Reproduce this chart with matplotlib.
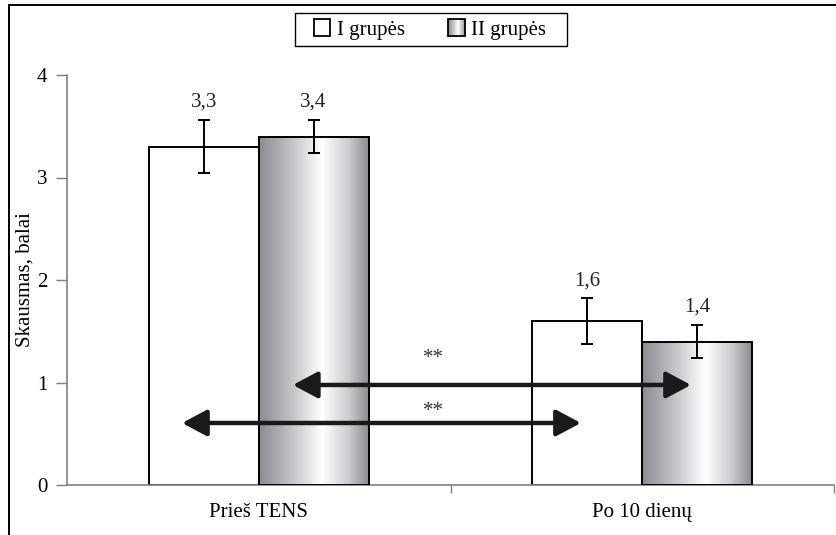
import numpy as np
import matplotlib
matplotlib.use("Agg")
import matplotlib.pyplot as plt
from matplotlib.patches import Rectangle
from matplotlib.colors import LinearSegmentedColormap
from matplotlib.legend_handler import HandlerBase

plt.rcParams['font.family'] = ['Liberation Serif', 'DejaVu Serif']

# ---- data ----
categories = ["Prieš TENS", "Po 10 dienų"]
series_names = ["I grupės", "II grupės"]
group1_values = [3.3, 1.6]
group2_values = [3.4, 1.4]
group1_err = [0.26, 0.22]
group2_err = [0.16, 0.16]
value_labels1 = ["3,3", "1,6"]
value_labels2 = ["3,4", "1,4"]
y_ticks = [0, 1, 2, 3, 4]
ylabel = "Skausmas, balai"
# significance arrows
arrow_starts = [0.089, -0.20]
arrow_ends = [1.127, 0.84]
arrow_levels = [0.976, 0.605]
arrow_labels = ["**", "**"]
label_levels = [1.23, 0.72]

FS = 15
W, H = 836, 535
fig = plt.figure(figsize=(W / 100, H / 100), dpi=100)
ax = fig.add_axes([67 / W, 1 - 485 / H, (834 - 67) / W, 410 / H])

grad_cmap = LinearSegmentedColormap.from_list(
    "bargrad",
    [(0.0, "#8b8c90"), (0.3, "#c4c5c8"), (0.57, "#ffffff"),
     (0.8, "#cdced1"), (1.0, "#88898d")])

x = np.arange(len(categories))
width = 0.287
off = 0.143

b1 = ax.bar(x - off, group1_values, width, color="white", edgecolor="black",
            linewidth=1.4, zorder=2)
b2 = ax.bar(x + off, group2_values, width, color="none", edgecolor="black",
            linewidth=1.4, zorder=3)

grad = np.linspace(0, 1, 256).reshape(1, -1)
for rect in b2:
    x0, y0 = rect.get_x(), rect.get_y()
    w, h = rect.get_width(), rect.get_height()
    im = ax.imshow(grad, cmap=grad_cmap, aspect="auto",
                   extent=[x0, x0 + w, y0, y0 + h], zorder=2.5,
                   interpolation="bilinear")
    clip = Rectangle((x0, y0), w, h, transform=ax.transData)
    im.set_clip_path(clip)

ekw = dict(fmt="none", ecolor="black", elinewidth=1.4, capsize=4, capthick=1.4, zorder=4)
ax.errorbar(x - off, group1_values, yerr=group1_err, **ekw)
ax.errorbar(x + off, group2_values, yerr=group2_err, **ekw)

for xi, v, e, lab in zip(x - off, group1_values, group1_err, value_labels1):
    ax.annotate(lab, (xi, v + e), xytext=(0, 6), textcoords="offset points",
                ha="center", va="bottom", fontsize=FS, color="#222222")
for xi, v, e, lab in zip(x + off, group2_values, group2_err, value_labels2):
    ax.annotate(lab, (xi, v + e), xytext=(0, 6), textcoords="offset points",
                ha="center", va="bottom", fontsize=FS, color="#222222")

for xs, xe, yl, lab, ly in zip(arrow_starts, arrow_ends, arrow_levels, arrow_labels, label_levels):
    ax.annotate("", xy=(xe, yl), xytext=(xs, yl),
                arrowprops=dict(arrowstyle="<|-|>,head_length=0.75,head_width=0.4",
                                lw=3.2, color="#1a1a1a", mutation_scale=20,
                                shrinkA=0, shrinkB=0), zorder=5)
    ax.text(0.455, ly, lab, ha="center", va="center", fontsize=FS, color="#333333", zorder=5)

ax.set_xlim(-0.5, 1.5)
ax.set_ylim(0, 4)
ax.set_yticks(y_ticks)
ax.set_yticklabels([str(t) for t in y_ticks], fontsize=FS)
ax.set_xticks([0.5, 1.5])
ax.set_xticklabels(["", ""])
ax.set_xticks(x, minor=True)
ax.set_xticklabels(categories, minor=True, fontsize=FS)
ax.tick_params(axis="x", which="minor", length=0, pad=13)
ax.tick_params(axis="x", which="major", length=6, width=1, color="#808080", direction="out")
ax.tick_params(axis="y", length=8, width=1, color="#808080", direction="out", pad=6)
for s in ["top", "right"]:
    ax.spines[s].set_visible(False)
for s in ["left", "bottom"]:
    ax.spines[s].set_color("#808080")
    ax.spines[s].set_linewidth(1.2)
ax.set_ylabel(ylabel, fontsize=FS)
ax.yaxis.set_label_coords((35 - 67) / 767, 0.5)
ax.patch.set_alpha(0)


class GradHandler(HandlerBase):
    def __init__(self, gradient):
        super().__init__()
        self.gradient = gradient

    def create_artists(self, legend, orig_handle, xdescent, ydescent, width,
                       height, fontsize, trans):
        s = 12.0
        x0 = -xdescent + width - s
        y0 = -ydescent + (height - s) / 2
        arts = []
        if self.gradient:
            n = 24
            for i in range(n):
                arts.append(Rectangle((x0 + s * i / n, y0), s / n + 0.01, s,
                                      facecolor=grad_cmap((i + 0.5) / n),
                                      edgecolor="none", transform=trans))
        else:
            arts.append(Rectangle((x0, y0), s, s, facecolor="white",
                                  edgecolor="none", transform=trans))
        arts.append(Rectangle((x0, y0), s, s, facecolor="none",
                              edgecolor="black", lw=1.3, transform=trans))
        return arts


h1, h2 = Rectangle((0, 0), 1, 1), Rectangle((0, 0), 1, 1)
leg = fig.legend([h1, h2], series_names, loc="center",
                 bbox_to_anchor=(432 / W, 1 - 30 / H), bbox_transform=fig.transFigure,
                 ncol=2, fontsize=FS, frameon=False,
                 handler_map={h1: GradHandler(False), h2: GradHandler(True)},
                 handlelength=0.6, handletextpad=0.3, columnspacing=2.3,
                 borderpad=0.0)

legbox = Rectangle((295 / W, 1 - 46 / H), (567 - 295) / W, 33 / H,
                   transform=fig.transFigure, facecolor="white",
                   edgecolor="black", lw=1.0, zorder=-1)
fig.patches.append(legbox)

border = Rectangle((9 / W, -0.05), 1.2, 1 - 5 / H + 0.05, transform=fig.transFigure,
                   facecolor="none", edgecolor="black", lw=1.4, zorder=0)
fig.patches.append(border)

fig.savefig("out.png", dpi=100)
